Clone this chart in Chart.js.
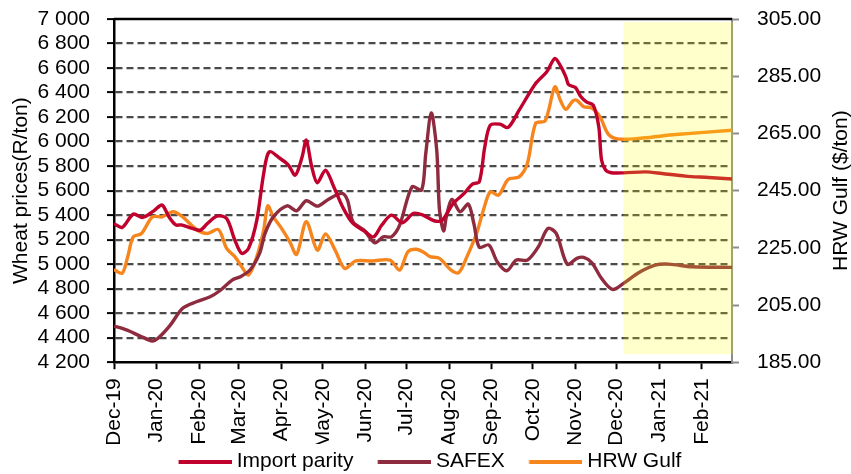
<!DOCTYPE html>
<html>
<head>
<meta charset="utf-8">
<script src="https://cdn.jsdelivr.net/npm/chart.js@4.4.1/dist/chart.umd.min.js"></script>
<style>
html, body { margin: 0; padding: 0; background: #fff; }
#wrap { width: 851px; height: 474px; position: relative; }
</style>
</head>
<body>
<div id="wrap"><canvas id="chart"></canvas></div>
<script>
// x values are days counted from 1 Dec 2019
const monthDays = [0, 31, 62, 91, 122, 152, 183, 213, 244, 275, 305, 336, 366, 397, 428];
const monthLabels = ['Dec-19', 'Jan-20', 'Feb-20', 'Mar-20', 'Apr-20', 'May-20', 'Jun-20', 'Jul-20',
    'Aug-20', 'Sep-20', 'Oct-20', 'Nov-20', 'Dec-20', 'Jan-21', 'Feb-21'];

const importDays = [0, 6, 14, 21, 29, 35, 40, 45, 49, 57, 63, 68, 75, 82, 88, 93, 98, 104, 109, 113,
    121, 127, 132, 137, 140, 144, 148, 154, 160, 167, 174, 183, 189, 195, 202, 210, 218, 225, 233, 239,
    247, 255, 261, 266, 270, 274, 281, 287, 295, 307, 315, 321, 325, 329, 331, 336, 340, 344, 349, 353,
    355, 358, 362, 371, 387, 399, 416, 433, 450];
const importParity = [5330, 5300, 5408, 5381, 5435, 5482, 5386, 5320, 5320, 5292, 5278, 5332, 5392, 5373, 5196, 5088, 5129, 5359, 5740, 5916,
    5862, 5808, 5726, 5876, 6012, 5794, 5664, 5767, 5631, 5455, 5332, 5264, 5223, 5319, 5400, 5337, 5414, 5400, 5354, 5359,
    5495, 5577, 5653, 5672, 5957, 6134, 6142, 6115, 6256, 6474, 6568, 6678, 6620, 6528, 6465, 6441, 6365, 6324, 6297, 6120,
    5849, 5767, 5746, 5745, 5753, 5740, 5718, 5707, 5694];

const safexDays = [0, 9, 19, 28, 32, 41, 50, 60, 70, 77, 86, 92, 99, 106, 110, 116, 126, 133, 140, 148,
    156, 166, 170, 174, 182, 190, 196, 202, 208, 217, 224, 227, 231, 235, 237, 240, 242, 246, 252, 258,
    262, 266, 273, 279, 286, 293, 301, 309, 316, 322, 330, 337, 342, 348, 355, 363, 371, 382, 394, 404, 421, 450];
const safex = [4495, 4463, 4414, 4373, 4395, 4503, 4640, 4693, 4734, 4783, 4870, 4897, 4952, 5088, 5251, 5386, 5476, 5435, 5517, 5473,
    5528, 5577, 5522, 5346, 5278, 5174, 5223, 5223, 5319, 5631, 5604, 5900, 6234, 5930, 5441, 5272, 5386, 5528, 5427, 5490,
    5332, 5137, 5156, 5020, 4946, 5033, 5033, 5142, 5292, 5251, 5000, 5047, 5055, 5011, 4884, 4794, 4843, 4930, 4992, 5000, 4979, 4974];

const hrwDays = [0, 6, 10, 14, 20, 28, 35, 43, 50, 60, 68, 76, 82, 88, 93, 98, 104, 109, 112, 116,
    122, 128, 133, 140, 148, 154, 161, 168, 176, 188, 201, 208, 214, 220, 226, 230, 237, 245, 251, 257,
    264, 269, 274, 280, 287, 295, 301, 307, 314, 321, 325, 329, 334, 337, 342, 348, 354, 360, 368, 385, 409, 450];
const hrwGulf = [217.4, 216.1, 221.9, 228.8, 230.0, 235.8, 235.8, 237.6, 235.8, 231.4, 230.0, 231.4, 224.8, 221.9, 218.4, 215.5, 221.9, 231.2, 239.7, 235.8,
    231.8, 227.1, 222.7, 234.1, 224.2, 229.8, 224.2, 217.8, 220.4, 220.4, 220.7, 217.2, 223.6, 224.5, 223.3, 221.9, 221.3, 217.4, 216.3, 221.9,
    230.0, 238.2, 244.6, 243.4, 248.9, 249.8, 254.5, 268.5, 269.4, 281.3, 276.6, 273.4, 276.3, 276.6, 274.3, 273.9, 270.7, 264.7, 263.0, 263.4, 264.6, 266.1];

// forecast band (shaded)
const shadeFrom = 371, shadeTo = 451, shadeTop = 6975, shadeBottom = 4265;

const colors = ['#C0002D', '#8E2B3E', '#F7851E'];
const FONT = "'Liberation Sans', Arial, sans-serif";
Chart.defaults.font.family = FONT;
Chart.defaults.font.size = 21;
Chart.defaults.color = '#000';

function toPoints(xs, ys) {
    return xs.map(function(x, i) { return {x: x, y: ys[i]}; });
}

// legend line sample, offset inside the image so the gap to the text is small
function lineSample(color) {
    const c = document.createElement('canvas');
    c.width = 68; c.height = 4;
    const g = c.getContext('2d');
    g.fillStyle = color;
    g.fillRect(14.6, 0, 53.4, 4);
    return c;
}
const samples = colors.map(lineSample);

// vertical axes: fixed width, no extra label padding above/below the plot
function fixWidth(w) {
    return function(scale) {
        scale.width = w;
        scale.paddingTop = 0;
        scale.paddingBottom = 0;
    };
}

const extras = {
    id: 'extras',
    afterInit(chart) {
        const lg = chart.legend;
        const fit = lg.fit;
        lg.fit = function() { fit.call(this); this.height = 30; };
    },
    afterLayout(chart) {
        // legend sits a bit higher, over the lower part of the x axis box
        chart.legend.top = 435.6;
        chart.legend.bottom = 474;
    },
    beforeDatasetsDraw(chart) {
        const ctx = chart.ctx, a = chart.chartArea;
        ctx.save();
        ctx.strokeStyle = '#000';
        ctx.lineWidth = 2.5;
        ctx.beginPath();
        ctx.moveTo(a.left, a.top);
        ctx.lineTo(a.right, a.top);
        ctx.stroke();
        ctx.restore();
    },
    afterDatasetsDraw(chart) {
        const ctx = chart.ctx, x = chart.scales.x, y = chart.scales.y;
        const x0 = x.getPixelForValue(shadeFrom), x1 = x.getPixelForValue(shadeTo);
        const y0 = y.getPixelForValue(shadeTop), y1 = y.getPixelForValue(shadeBottom);
        ctx.save();
        ctx.fillStyle = 'rgba(255,255,0,0.2)';
        ctx.fillRect(x0, y0, x1 - x0, y1 - y0);
        ctx.restore();
    },
    afterDraw(chart) {
        const ctx = chart.ctx, a = chart.chartArea;
        ctx.save();
        ctx.translate(841, (a.top + a.bottom) / 2);
        ctx.rotate(-Math.PI / 2);
        ctx.font = '21px ' + FONT;
        ctx.fillStyle = '#000';
        ctx.textAlign = 'center';
        ctx.textBaseline = 'middle';
        ctx.fillText('HRW Gulf ($/ton)', 0, 0);
        ctx.restore();
    }
};

const config = {
    type: 'line',
    data: {
        datasets: [
            {
                label: 'Import parity',
                data: toPoints(importDays, importParity),
                borderColor: colors[0],
                yAxisID: 'y',
            },
            {
                label: 'SAFEX',
                data: toPoints(safexDays, safex),
                borderColor: colors[1],
                yAxisID: 'y',
            },
            {
                label: 'HRW Gulf',
                data: toPoints(hrwDays, hrwGulf),
                borderColor: colors[2],
                yAxisID: 'y1',
            }
        ]
    },
    options: {
        responsive: true,
        maintainAspectRatio: false,
        animation: false,
        layout: { padding: { top: 19, left: 0, right: 0, bottom: 0 } },
        elements: {
            line: { borderWidth: 3.4, tension: 0.3, fill: false },
            point: { radius: 0 }
        },
        plugins: {
            tooltip: { enabled: false },
            legend: {
                position: 'bottom',
                labels: {
                    usePointStyle: true,
                    pointStyleWidth: 56.6,
                    padding: 15.4,
                    font: { size: 21 },
                    generateLabels(chart) {
                        const items = Chart.defaults.plugins.legend.labels.generateLabels(chart);
                        items.forEach(function(it, i) { it.pointStyle = samples[i]; });
                        return items;
                    }
                }
            }
        },
        scales: {
            x: {
                type: 'linear',
                min: 0,
                max: 450,
                afterBuildTicks(scale) {
                    scale.ticks = monthDays.map(function(v) { return {value: v}; });
                },
                afterFit(scale) { scale.height = 81.8; },
                ticks: {
                    autoSkip: false,
                    maxRotation: 90,
                    minRotation: 90,
                    padding: 9,
                    callback(value, index) { return monthLabels[index]; }
                },
                grid: {
                    drawOnChartArea: false,
                    tickLength: 7,
                    tickWidth: 2,
                    tickColor: '#000'
                },
                border: { color: '#000', width: 2.5 }
            },
            y: {
                type: 'linear',
                position: 'left',
                min: 4200,
                max: 7000,
                afterFit: fixWidth(114),
                ticks: {
                    stepSize: 200,
                    autoSkip: false,
                    padding: 17,
                    callback(v) { return String(v).replace(/\B(?=(\d{3})+(?!\d))/g, ' '); }
                },
                title: {
                    display: true,
                    text: 'Wheat prices(R/ton)',
                    font: { size: 21 },
                    padding: { top: 8.4, bottom: 0 }
                },
                grid: {
                    color(ctx) {
                        const v = ctx.tick ? ctx.tick.value : null;
                        return (v === 4200 || v === 7000) ? 'rgba(0,0,0,0)' : '#4a4a4a';
                    },
                    lineWidth: 2.2,
                    tickLength: 7,
                    tickWidth: 2,
                    tickColor: '#000'
                },
                border: { color: '#000', width: 2.5, dash: [7, 4] }
            },
            y1: {
                type: 'linear',
                position: 'right',
                min: 185,
                max: 305,
                afterFit: fixWidth(119),
                ticks: {
                    stepSize: 20,
                    autoSkip: false,
                    padding: 18,
                    callback(v) { return v.toFixed(2); }
                },
                grid: {
                    drawOnChartArea: false,
                    tickLength: 7,
                    tickWidth: 2,
                    tickColor: '#8c8c8c'
                },
                border: { color: '#8c8c8c', width: 2 }
            }
        }
    },
    plugins: [extras]
};

new Chart(document.getElementById('chart'), config);
</script>
</body>
</html>
